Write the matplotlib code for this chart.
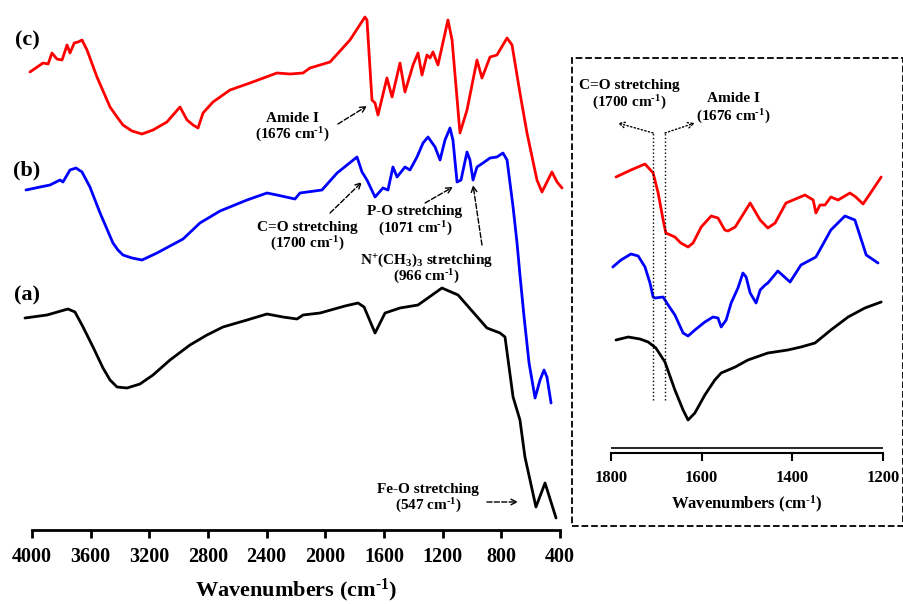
import matplotlib
matplotlib.use('Agg')
import matplotlib.pyplot as plt
from matplotlib.patches import Rectangle

plt.rcParams['font.family'] = 'Liberation Serif'
plt.rcParams['font.weight'] = 'bold'
plt.rcParams['mathtext.fontset'] = 'custom'
plt.rcParams['mathtext.rm'] = 'Liberation Serif:bold'
plt.rcParams['mathtext.it'] = 'Liberation Serif:bold'
plt.rcParams['mathtext.bf'] = 'Liberation Serif:bold'
plt.rcParams['mathtext.default'] = 'rm'

# ---- full spectra (offset transmittance, arbitrary units) ----
wn_a = [4048, 3898, 3755, 3707, 3652, 3584, 3516, 3468, 3420, 3352, 3264, 3175, 3059, 2923,
        2807, 2698, 2534, 2398, 2289, 2193, 2152, 2036, 1866, 1777, 1736, 1661, 1593, 1491,
        1368, 1205, 1095, 898, 809, 775, 720, 673, 639, 564, 502, 427]
t_a = [212, 215, 221, 218, 203, 183, 162, 150, 143, 142, 146, 155, 170, 185,
       195, 203, 210, 216, 213, 211, 215, 217, 224, 227, 223, 197, 217, 222,
       225, 242, 235, 202, 197, 193, 133, 110, 73, 23, 47, 12]

wn_b = [4041, 3945, 3877, 3809, 3789, 3741, 3700, 3659, 3605, 3536, 3448, 3414, 3380, 3318,
        3250, 3148, 3059, 2970, 2855, 2718, 2534, 2398, 2330, 2207, 2173, 2023, 1920, 1784,
        1750, 1716, 1661, 1607, 1573, 1539, 1511, 1457, 1423, 1375, 1334, 1300, 1252, 1218,
        1184, 1150, 1130, 1102, 1075, 1034, 1014, 993, 966, 925, 877, 830, 789, 761,
        720, 693, 673, 645, 611, 570, 536, 509, 489, 461]
t_b = [340, 343, 345, 350, 348, 360, 362, 358, 343, 317, 287, 280, 275, 272,
       270, 277, 284, 291, 307, 319, 330, 337, 335, 331, 337, 340, 357, 373,
       358, 350, 333, 342, 340, 363, 353, 363, 360, 373, 387, 393, 383, 370,
       390, 402, 390, 348, 350, 378, 370, 350, 363, 367, 372, 373, 377, 370,
       323, 287, 255, 213, 167, 132, 150, 160, 153, 127]

wn_c = [4014, 3925, 3890, 3864, 3830, 3795, 3761, 3741, 3712, 3686, 3659, 3625, 3557, 3468,
        3420, 3380, 3318, 3250, 3175, 3080, 2991, 2943, 2902, 2868, 2834, 2766, 2650, 2514,
        2330, 2241, 2152, 2105, 1968, 1832, 1730, 1716, 1682, 1661, 1641, 1580, 1545, 1491,
        1457, 1402, 1368, 1341, 1307, 1286, 1266, 1232, 1164, 1136, 1082, 1034, 966, 932,
        877, 830, 761, 727, 673, 625, 557, 523, 455, 420, 386]
t_c = [458, 467, 466, 477, 471, 470, 485, 477, 487, 488, 490, 480, 453, 423,
       413, 405, 399, 396, 400, 408, 423, 410, 405, 402, 417, 428, 440, 447,
       457, 456, 457, 462, 468, 490, 513, 510, 430, 427, 415, 452, 433, 467,
       438, 465, 477, 455, 475, 472, 478, 465, 510, 490, 397, 420, 470, 452,
       473, 475, 492, 485, 437, 397, 350, 338, 358, 348, 342]

# ---- zoomed region 1800-1200 ----
wn_za = [1789, 1762, 1736, 1718, 1701, 1681, 1659, 1641, 1630, 1615, 1593, 1571, 1557, 1526,
         1498, 1454, 1410, 1381, 1350, 1315, 1277, 1240, 1204]
t_za = [113, 116, 114, 111, 105, 91, 63, 43, 33, 40, 58, 73, 80, 86,
        93, 100, 103, 106, 110, 123, 136, 145, 151]

wn_zb = [1796, 1778, 1756, 1740, 1725, 1714, 1707, 1703, 1685, 1674, 1659, 1641, 1630, 1615,
         1593, 1575, 1564, 1557, 1546, 1535, 1520, 1509, 1502, 1493, 1480, 1471, 1460, 1454,
         1432, 1405, 1381, 1348, 1315, 1284, 1262, 1237, 1211]
t_zb = [186, 193, 199, 197, 186, 170, 156, 155, 156, 148, 138, 120, 117, 123,
        131, 136, 135, 126, 133, 150, 165, 180, 176, 160, 150, 163, 168, 170,
        182, 171, 188, 196, 223, 237, 233, 198, 190]

wn_zc = [1789, 1756, 1725, 1707, 1696, 1685, 1679, 1659, 1646, 1630, 1619, 1601, 1579, 1564,
         1549, 1542, 1526, 1493, 1471, 1454, 1438, 1414, 1372, 1354, 1348, 1339, 1328, 1315,
         1299, 1273, 1260, 1244, 1226, 1204]
t_zc = [276, 283, 289, 280, 260, 233, 220, 216, 210, 206, 210, 226, 237, 235,
        223, 222, 226, 250, 233, 225, 230, 250, 258, 253, 240, 248, 248, 256,
        253, 260, 256, 249, 261, 276]

main_ticks = [4000, 3600, 3200, 2800, 2400, 2000, 1600, 1200, 800, 400]
zoom_ticks = [1800, 1600, 1400, 1200]

W, H = 904, 604
CM = r'cm$^{\text{-1}}$'


def fx(px):
    return px / W


def fy(py):
    return 1 - py / H


fig = plt.figure(figsize=(W / 100, H / 100), dpi=100)
line_kw = dict(lw=2, solid_joinstyle='round', solid_capstyle='round')

# main panel
ax = fig.add_axes([fx(32), fy(530), fx(560) - fx(32), fy(0) - fy(530)])
for wn, t, c in [(wn_a, t_a, 'black'), (wn_b, t_b, '#0000ff'), (wn_c, t_c, '#ff0000')]:
    ax.plot(wn, t, color=c, clip_on=False, **line_kw)
ax.set_xlim(4000, 400)
ax.set_ylim(0, 530)
for s in ['top', 'right', 'left']:
    ax.spines[s].set_visible(False)
ax.spines['bottom'].set_linewidth(2)
ax.set_yticks([])
ax.set_xticks(main_ticks)
ax.tick_params(axis='x', direction='out', length=6, width=2, labelsize=14.5, pad=6)
ax.set_xlabel('Wavenumbers (' + CM + ')', fontsize=16, fontweight='bold', labelpad=7)

arrow = dict(arrowstyle='->', linestyle='--', lw=1, color='black', shrinkA=0, shrinkB=0)
notes = [
    ('Amide I', '(1676 ' + CM + ')', 2227, 412, 1914, 406, 1716, 424),
    ('C=O stretching', '(1700 ' + CM + ')', 2125, 303, 1968, 317, 1750, 348),
    ('P-O stretching', '(1071 ' + CM + ')', 1389, 318, 1320, 327, 1130, 343),
    ('N$^{+}$(CH$_{3}$)$_{3}$ stretching', '(966 ' + CM + ')', 1307, 270, 932, 285, 993, 345),
    ('Fe-O stretching', '(547 ' + CM + ')', 1300, 41, 898, 28, 686, 28),
]
for l1, l2, tx, ty, x0, y0, x1, y1 in notes:
    ax.text(tx, ty, l1, ha='center', va='center', fontsize=11, fontweight='bold')
    ax.text(tx, ty - 17, l2, ha='center', va='center', fontsize=11, fontweight='bold')
    ax.annotate('', xy=(x1, y1), xytext=(x0, y0), arrowprops=arrow)

for lab, py in [('(c)', 40), ('(b)', 170), ('(a)', 295)]:
    fig.text(fx(27), fy(py), lab, ha='center', va='center', fontsize=16, fontweight='bold')

# inset panel
fig.patches.append(Rectangle((fx(572), fy(526)), fx(903) - fx(572), fy(58) - fy(526),
                             transform=fig.transFigure, fill=False, ls='--', lw=1.3,
                             edgecolor='black'))
ax2 = fig.add_axes([fx(611), fy(453), fx(883) - fx(611), fy(58) - fy(453)])
for wn, t, c in [(wn_za, t_za, 'black'), (wn_zb, t_zb, '#0000ff'), (wn_zc, t_zc, '#ff0000')]:
    ax2.plot(wn, t, color=c, **line_kw)
ax2.set_xlim(1800, 1200)
ax2.set_ylim(0, 395)
for s in ['top', 'right', 'left']:
    ax2.spines[s].set_visible(False)
ax2.spines['bottom'].set_linewidth(1.5)
ax2.axhline(5, color='black', lw=1.2)
ax2.set_yticks([])
ax2.set_xticks(zoom_ticks)
ax2.tick_params(axis='x', direction='out', length=6, width=1.5, labelsize=12, pad=6)
ax2.set_xlabel('Wavenumbers (' + CM + ')', fontsize=12, fontweight='bold', labelpad=6)

dot = dict(arrowstyle='->', linestyle=':', lw=1, color='black', shrinkA=0, shrinkB=0)
ax2.plot([1707, 1707], [53, 320], ls=':', color='black', lw=1)
ax2.plot([1681, 1681], [53, 320], ls=':', color='black', lw=1)
ax2.annotate('', xy=(1785, 330), xytext=(1707, 320), arrowprops=dot)
ax2.annotate('', xy=(1615, 330), xytext=(1681, 320), arrowprops=dot)
ax2.text(1759, 368, 'C=O stretching', ha='center', va='center', fontsize=11, fontweight='bold')
ax2.text(1759, 350, '(1700 ' + CM + ')', ha='center', va='center', fontsize=11, fontweight='bold')
ax2.text(1531, 354, 'Amide I', ha='center', va='center', fontsize=11, fontweight='bold')
ax2.text(1531, 336, '(1676 ' + CM + ')', ha='center', va='center', fontsize=11, fontweight='bold')

fig.savefig('out.png', dpi=100)
